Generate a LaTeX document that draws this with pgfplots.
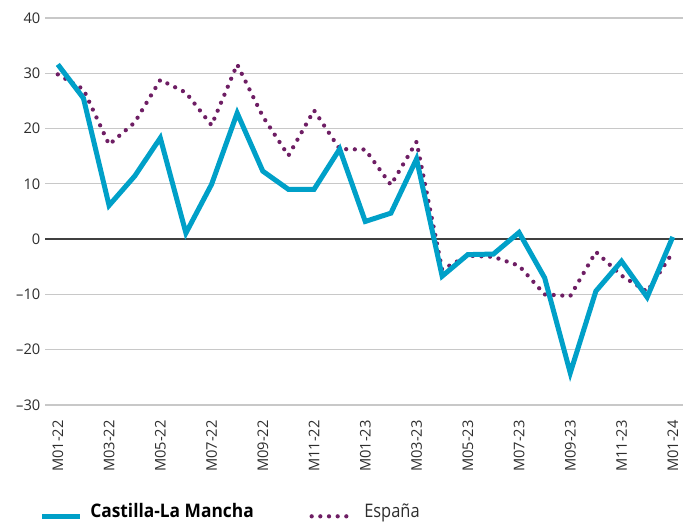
\documentclass[border=0pt]{standalone}
\usepackage{fontspec}
\setmainfont{Open Sans}
\newfontfamily\legfont[FakeStretch=0.88]{Open Sans}
\newfontfamily\legbfont[FakeStretch=0.93]{Open Sans}
\usepackage{pgfplots}
\pgfplotsset{compat=1.18}
\definecolor{clm}{RGB}{0,160,200}
\definecolor{esp}{RGB}{110,30,100}
\definecolor{gridc}{RGB}{200,200,200}
\definecolor{txt}{RGB}{45,45,45}
\begin{document}
\begin{tikzpicture}[x=1pt,y=1pt]
\useasboundingbox (-33.75,-88.5) rectangle (488.25,303.75);
\begin{axis}[
  scale only axis, width=478.5pt, height=290.25pt,
  xmin=-0.5, xmax=24.4, ymin=-30, ymax=40,
  axis line style={draw=none}, tick style={draw=none}, major tick length=0pt,
  ytick={-30,-20,-10,0,10,20,30,40},
  yticklabels={--30,--20,--10,0,10,20,30,40},
  ymajorgrids, grid style={gridc, line width=0.9pt},
  xtick={0,2,...,24},
  xticklabels={M01-22,M03-22,M05-22,M07-22,M09-22,M11-22,M01-23,M03-23,M05-23,M07-23,M09-23,M11-23,M01-24},
  xticklabel style={rotate=90, anchor=east, font=\fontsize{11}{13}\selectfont, text=txt},
  yticklabel style={font=\fontsize{11}{13}\selectfont, text=txt},
  xticklabel shift=8pt,
  /pgf/number format/assume math mode=true,
  clip=false,
]
\draw[black!75, line width=1.3pt] (axis cs:-0.5,0) -- (axis cs:24.4,0);
\addplot[esp, line width=3.2pt, line cap=round, dash pattern=on 0pt off 6.5pt] coordinates {
(0,29.8)(1,27.1)(2,17.1)(3,21.1)(4,28.8)(5,26.5)(6,20.6)(7,31.6)(8,22.2)(9,15.1)(10,23.3)(11,16.3)(12,16.2)(13,9.8)(14,17.6)(15,-5.5)(16,-3.0)(17,-3.2)(18,-4.8)(19,-10.0)(20,-10.3)(21,-2.3)(22,-6.6)(23,-9.5)(24,-2.4)};
\addplot[clm, line width=3.75pt] coordinates {
(0,31.6)(1,25.5)(2,6.1)(3,11.4)(4,18.3)(5,1.1)(6,9.9)(7,22.8)(8,12.3)(9,9.0)(10,9.0)(11,16.3)(12,3.2)(13,4.7)(14,14.5)(15,-6.7)(16,-2.8)(17,-2.7)(18,1.2)(19,-7.0)(20,-24.2)(21,-9.4)(22,-4.0)(23,-10.5)(24,0.4)};
\end{axis}
\draw[clm, line width=3.75pt] (-2.25,-83.5) -- (26.25,-83.5);
\node[anchor=base west, inner sep=0pt, text=black] at (33.75,-84.5) {\legbfont\fontsize{14}{16}\selectfont\bfseries Castilla-La Mancha};
\draw[esp, line width=3.2pt, line cap=round, dash pattern=on 0pt off 6.5pt] (200,-83.5) -- (231,-83.5);
\node[anchor=base west, inner sep=0pt, text=txt] at (239.25,-84.5) {\legfont\fontsize{14}{16}\selectfont España};
\end{tikzpicture}
\end{document}
